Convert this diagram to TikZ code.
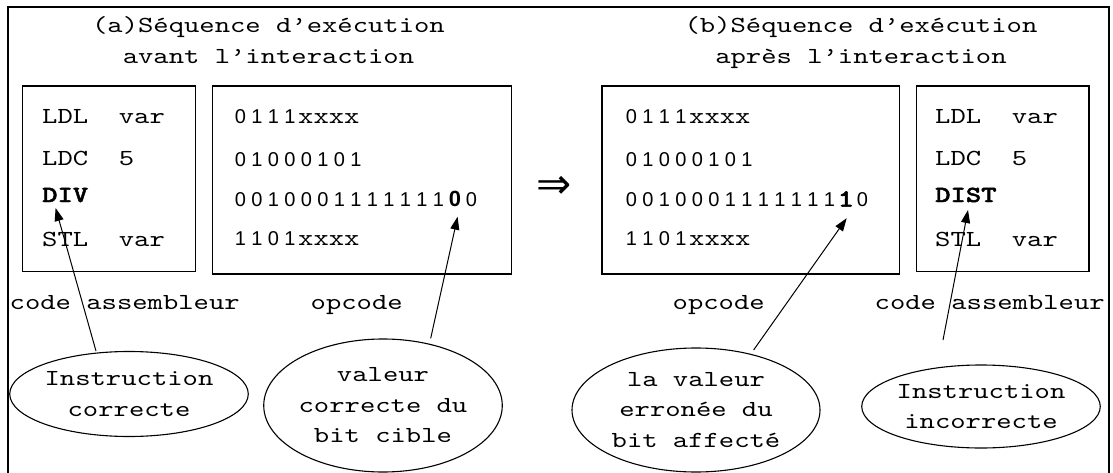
\documentclass[tikz,border=0pt]{standalone}
\usepackage{fontspec}
\setmainfont{Liberation Serif}
\newfontfamily\courier{lmmono10-regular.otf}[FakeStretch=1.27,BoldFont=lmmonolt10-bold.otf,BoldFeatures={FakeBold=2}]
\newfontfamily\arialdig{Liberation Sans}
\newfontfamily\arrowfont{DejaVu Sans}
\usetikzlibrary{shapes.geometric,arrows.meta}

\newcommand\monosize{\fontsize{23}{30.5}\selectfont}
\newcommand\digsize{\fontsize{20}{24}\selectfont}
\newlength\bitw \setlength\bitw{16.5pt}
\makeatletter
\newcommand\bitcell[1]{\makebox[\bitw][c]{#1}}
\newcommand\bits[1]{\bits@loop#1\relax}
\def\bits@loop#1{\ifx\relax#1\else\bitcell{#1}\expandafter\bits@loop\fi}
\makeatother
% digits in a sans face on a fixed pitch, letters in the typewriter face
\newcommand\dg[1]{{\arialdig\digsize\bits{#1}}}
\newcommand\mx[1]{{\courier\monosize #1}}

\tikzset{
  frame/.style={line width=2pt},
  panel/.style={draw, line width=1.3pt, inner sep=0pt},
  txt/.style={inner sep=0pt, anchor=base west, font={\courier\monosize}},
  ttl/.style={inner sep=0pt, anchor=base, font={\courier\monosize}},
  bubble/.style={ellipse, draw, line width=1.1pt, inner sep=0pt, align=center,
                 font={\courier\monosize}},
  ptr/.style={line width=1pt, -{Triangle[length=13pt,width=9pt]}}
}

\begin{document}
\begin{tikzpicture}[x=1pt,y=-1pt]
\useasboundingbox (0,0) rectangle (1113,473);

% outer frame, open at the bottom
\draw[frame] (8,490) -- (8,7) -- (1109,7) -- (1109,490);

% titles
\node[ttl] (tA1) at (268.5,32.3) {(a)Séquence d’exécution};
\node[ttl] (tA2) at (268.5,63.3) {avant l’interaction};
\node[ttl] (tB1) at (861,32.3) {(b)Séquence d’exécution};
\node[ttl] (tB2) at (861,63.3) {après l’interaction};

% panels
\node[panel, minimum width=173.3pt, minimum height=185.7pt] (asmA) at (109,178.9) {};
\node[panel, minimum width=299pt,   minimum height=188pt]   (opA)  at (362,180) {};
\node[panel, minimum width=297.5pt, minimum height=188pt]   (opB)  at (750.8,180) {};
\node[panel, minimum width=172.5pt, minimum height=185.7pt] (asmB) at (1002.8,178.9) {};

% assembly code, before
\node[txt] (aL1) at (42,124) {LDL\ \ var};
\node[txt] (aL2) at (42,166) {LDC\ \ 5};
\node[txt] (aDIV) at (42,202) {\bfseries DIV};
\node[txt] (aL4) at (42,246) {STL\ \ var};

% opcodes, before
\node[txt] (oA1) at (232,124) {\dg{0111}\mx{xxxx}};
\node[txt] (oA2) at (232,166.5) {\dg{01000101}};
\node[txt] (oA3) at (232,206.7) {\dg{0010001111111}\bitcell{\arialdig\bfseries\fontsize{22}{24}\selectfont 0}\dg{0}};
\node[txt] (oA4) at (232,245.5) {\dg{1101}\mx{xxxx}};

% opcodes, after
\node[txt] (oB1) at (623,124) {\dg{0111}\mx{xxxx}};
\node[txt] (oB2) at (623,166.5) {\dg{01000101}};
\node[txt] (oB3) at (623,206.7) {\dg{0010001111111}\bitcell{\courier\bfseries\fontsize{25}{30}\selectfont 1}\dg{0}};
\node[txt] (oB4) at (623,245.5) {\dg{1101}\mx{xxxx}};

% assembly code, after
\node[txt] (bL1) at (935,124) {LDL\ \ var};
\node[txt] (bL2) at (935,166) {LDC\ \ 5};
\node[txt] (bDIST) at (935,202) {\bfseries DIST};
\node[txt] (bL4) at (935,246) {STL\ \ var};

% transformation sign
\node[inner sep=0pt] (impl) at (554,187) {\arrowfont\fontsize{42}{44}\selectfont ⇒};

% captions under the panels
\node[txt] (cA) at (9.5,309.3) {code assembleur};
\node[txt] (pA) at (310.5,309.3) {opcode};
\node[txt] (pB) at (672.5,309.3) {opcode};
\node[txt] (cB) at (874.5,309.3) {code assembleur};

% notes
\node[bubble, minimum width=202pt, minimum height=85pt] (e1) at (129,394) {Instruction\\correcte};
\node[bubble, minimum width=208pt, minimum height=133pt] (e2) at (383,405.5) {valeur\\correcte du\\bit cible};
\node[bubble, minimum width=248pt, minimum height=124pt] (e3) at (696,410) {la valeur\\erronée du\\bit affecté};
\node[bubble, minimum width=212pt, minimum height=83pt] (e4) at (981,406.5) {Instruction\\incorrecte};

% pointers from the notes
\coordinate (t1) at (96,351);
\coordinate (t2) at (430.7,338.3);
\coordinate (t3) at (753.6,350);
\coordinate (t4) at (943,340);
\draw[ptr] (t1) -- ([shift={(13.6,6)}]aDIV.base west);
\draw[ptr] (t2) -- ([shift={(225.6,10)}]oA3.base west);
\draw[ptr] (t3) -- ([shift={(223.7,11.5)}]oB3.base west);
\draw[ptr] (t4) -- ([shift={(33,8)}]bDIST.base west);
\end{tikzpicture}
\end{document}
